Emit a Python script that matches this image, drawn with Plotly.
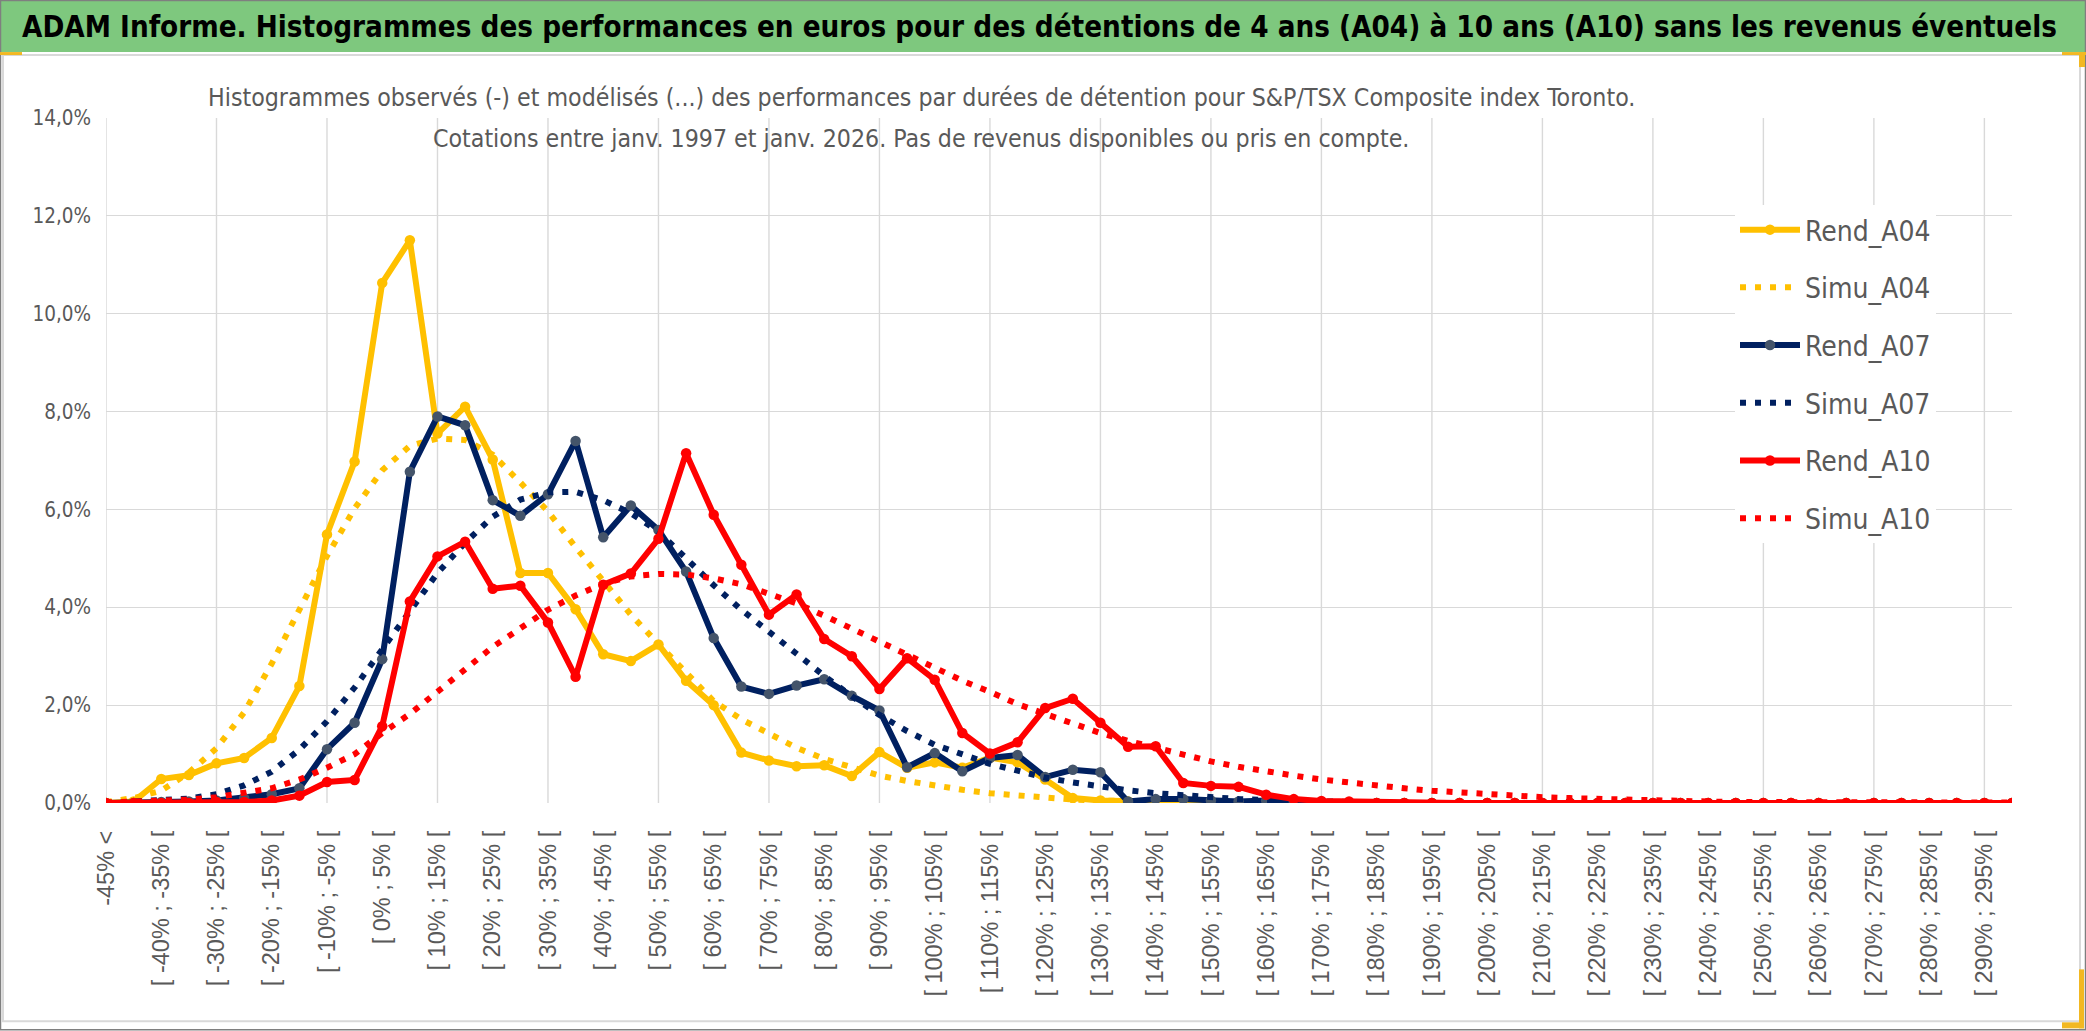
import plotly.graph_objects as go

# ---------------- data ----------------
bin_lower = list(range(-45, 300, 5))
categories = ["-45% <"] + ["[ %d%% ; %d%% [" % (lo, lo + 5) for lo in bin_lower]
tick_labels = categories[0::2]
grid_categories = categories[0::4]

rend_a04 = [0, 0.03, 0.49, 0.57, 0.81, 0.92, 1.33, 2.39, 5.49, 6.98,
            10.63, 11.5, 7.55, 8.1, 7.02, 4.7, 4.7, 3.96, 3.04, 2.9,
            3.24, 2.5, 2.0, 1.03, 0.87, 0.75, 0.77, 0.55, 1.04, 0.72,
            0.83, 0.72, 0.93, 0.83, 0.48, 0.1, 0.05, 0.03, 0.02, 0.02,
            0, 0, 0, 0, 0, 0, 0, 0, 0, 0,
            0, 0, 0, 0, 0, 0, 0, 0, 0, 0,
            0, 0, 0, 0, 0, 0, 0, 0, 0, 0]
simu_a04 = [0.02, 0.1, 0.25, 0.62, 1.12, 1.85, 2.85, 3.98, 5.05, 6.02,
            6.8, 7.3, 7.45, 7.42, 7.12, 6.55, 5.96, 5.23, 4.56, 3.85,
            3.25, 2.65, 2.08, 1.71, 1.41, 1.13, 0.9, 0.72, 0.56, 0.45,
            0.35, 0.27, 0.2, 0.15, 0.1, 0.07, 0.05, 0.03, 0.02, 0.01,
            0, 0, 0, 0, 0, 0, 0, 0, 0, 0,
            0, 0, 0, 0, 0, 0, 0, 0, 0, 0,
            0, 0, 0, 0, 0, 0, 0, 0, 0, 0]
rend_a07 = [0, 0, 0.02, 0.03, 0.05, 0.1, 0.18, 0.3, 1.1, 1.64,
            2.94, 6.77, 7.9, 7.72, 6.19, 5.87, 6.31, 7.4, 5.43, 6.08,
            5.58, 4.73, 3.37, 2.38, 2.23, 2.4, 2.53, 2.19, 1.89, 0.73,
            1.02, 0.65, 0.92, 0.98, 0.53, 0.68, 0.63, 0.03, 0.08, 0.08,
            0.05, 0.03, 0.05, 0.03, 0, 0, 0, 0, 0, 0,
            0, 0, 0, 0, 0, 0, 0, 0, 0, 0,
            0, 0, 0, 0, 0, 0, 0, 0, 0, 0]
simu_a07 = [0, 0.02, 0.04, 0.09, 0.18, 0.36, 0.64, 1.09, 1.67, 2.36,
            3.14, 3.92, 4.7, 5.32, 5.85, 6.2, 6.35, 6.36, 6.19, 5.92,
            5.55, 5.0, 4.45, 3.95, 3.48, 3.05, 2.6, 2.18, 1.8, 1.47,
            1.19, 1.0, 0.8, 0.66, 0.52, 0.42, 0.33, 0.26, 0.2, 0.15,
            0.11, 0.08, 0.06, 0.04, 0.03, 0.02, 0.01, 0, 0, 0,
            0, 0, 0, 0, 0, 0, 0, 0, 0, 0,
            0, 0, 0, 0, 0, 0, 0, 0, 0, 0]
rend_a10 = [0, 0, 0, 0, 0.02, 0.02, 0.05, 0.15, 0.43, 0.47,
            1.57, 4.12, 5.04, 5.34, 4.38, 4.44, 3.69, 2.58, 4.46, 4.69,
            5.4, 7.15, 5.89, 4.87, 3.85, 4.26, 3.35, 3.0, 2.33, 2.96,
            2.52, 1.43, 1.01, 1.24, 1.94, 2.13, 1.64, 1.15, 1.16, 0.41,
            0.35, 0.33, 0.17, 0.08, 0.04, 0.03, 0, 0, 0, 0,
            0, 0, 0, 0, 0, 0, 0, 0, 0, 0,
            0, 0, 0, 0, 0, 0, 0, 0, 0, 0]
simu_a10 = [0.01, 0.02, 0.04, 0.07, 0.12, 0.2, 0.3, 0.48, 0.72, 1.0,
            1.43, 1.82, 2.26, 2.73, 3.19, 3.58, 3.95, 4.24, 4.48, 4.63,
            4.68, 4.67, 4.59, 4.47, 4.28, 4.08, 3.83, 3.56, 3.3, 3.01,
            2.76, 2.5, 2.27, 2.02, 1.82, 1.62, 1.43, 1.27, 1.12, 0.97,
            0.85, 0.74, 0.64, 0.56, 0.48, 0.41, 0.35, 0.3, 0.25, 0.21,
            0.18, 0.15, 0.12, 0.1, 0.08, 0.06, 0.05, 0.04, 0.03, 0.02,
            0.02, 0.01, 0.01, 0.01, 0.01, 0.01, 0.01, 0.01, 0.01, 0.01]

series = [
    ("Rend_A04", rend_a04, "#FFC000", "#FFC000", False),
    ("Simu_A04", simu_a04, "#FFC000", None, True),
    ("Rend_A07", rend_a07, "#002060", "#44546A", False),
    ("Simu_A07", simu_a07, "#002060", None, True),
    ("Rend_A10", rend_a10, "#FF0000", "#FF0000", False),
    ("Simu_A10", simu_a10, "#FF0000", None, True),
]

title_text = ("ADAM Informe. Histogrammes des performances en euros pour des détentions "
              "de 4 ans (A04) à 10 ans (A10) sans les revenus éventuels")
subtitle_lines = [
    "Histogrammes observés (-) et modélisés (...) des performances par durées de détention "
    "pour S&P/TSX Composite index Toronto.",
    "Cotations entre janv. 1997 et janv. 2026. Pas de revenus disponibles ou pris en compte.",
]

# ---------------- geometry ----------------
W, H = 2086, 1031
ML, MR, MT, MB = 106, 74, 118, 227.5
PW = W - ML - MR
PH = H - MT - MB


def fx(px):
    return (px - ML) / PW


def fy(py):
    return (H - MB - py) / PH


NARROW = "Liberation Sans Narrow, Arial Narrow, DejaVu Sans Condensed, Roboto, sans-serif"
GREY = "#595959"
GRID = "#D9D9D9"

fig = go.Figure()
for i, (name, vals, col, mcol, dotted) in enumerate(series):
    if dotted:
        fig.add_trace(go.Scatter(
            x=categories, y=vals, name=name, mode="lines",
            line=dict(color=col, width=6, dash="6px,9px"),
            legendgroup=name, hoverinfo="skip"))
    else:
        fig.add_trace(go.Scatter(
            x=categories, y=vals, name=name, mode="lines+markers",
            line=dict(color=col, width=6),
            marker=dict(color=mcol, size=10.5),
            legendgroup=name, hoverinfo="skip"))

shapes = []
# outer frame and header
shapes.append(dict(type="rect", xref="paper", yref="paper", x0=fx(0), x1=fx(W), y0=fy(0), y1=fy(52),
                   fillcolor="#7EC87E", line=dict(width=0), layer="above"))
shapes.append(dict(type="rect", xref="paper", yref="paper", x0=fx(3), x1=fx(2080), y0=fy(55), y1=fy(1022),
                   fillcolor="rgba(0,0,0,0)", line=dict(color=GRID, width=2), layer="above"))
shapes.append(dict(type="rect", xref="paper", yref="paper", x0=fx(0.5), x1=fx(W - 0.5), y0=fy(0.5), y1=fy(H - 0.5),
                   fillcolor="rgba(0,0,0,0)", line=dict(color="#7F7F7F", width=1.5), layer="above"))
# small yellow accents
for (a, b, c, d) in [(0, 52, 22, 55), (2062, 52, 2086, 55), (2079, 52, 2085, 67),
                     (2079, 970, 2084, 1029), (2062, 1023, 2084, 1029)]:
    shapes.append(dict(type="rect", xref="paper", yref="paper", x0=fx(a), x1=fx(c), y0=fy(b), y1=fy(d),
                       fillcolor="#F2B822", line=dict(width=0), layer="above"))
# vertical gridlines every 4 categories
for c in grid_categories:
    shapes.append(dict(type="line", xref="x", yref="y", x0=c, x1=c, y0=0, y1=14,
                       line=dict(color=GRID, width=1.4), layer="between"))
# white box behind the chart title
shapes.append(dict(type="rect", xref="paper", yref="paper", x0=fx(200), x1=fx(1648), y0=fy(60), y1=fy(160),
                   fillcolor="white", line=dict(width=0), layer="between"))

annotations = [
    dict(text="<b>" + title_text + "</b>", xref="paper", yref="paper", x=fx(20), y=fy(27),
         xanchor="left", yanchor="middle", showarrow=False,
         font=dict(family=NARROW, size=29.3, color="black")),
    dict(text=subtitle_lines[0], xref="paper", yref="paper", x=fx(921), y=fy(97),
         xanchor="center", yanchor="middle", showarrow=False,
         font=dict(family=NARROW, size=24.7, color=GREY)),
    dict(text=subtitle_lines[1], xref="paper", yref="paper", x=fx(921), y=fy(139),
         xanchor="center", yanchor="middle", showarrow=False,
         font=dict(family=NARROW, size=24.7, color=GREY)),
]

fig.update_layout(
    width=W, height=H,
    margin=dict(l=ML, r=MR, t=MT, b=MB, pad=0),
    paper_bgcolor="white", plot_bgcolor="white",
    separators=", ",
    showlegend=True,
    legend=dict(x=fx(1735), y=fy(205), xanchor="left", yanchor="top",
                bgcolor="white", borderwidth=0, tracegroupgap=18.3,
                itemwidth=60, font=dict(family=NARROW, size=28, color=GREY)),
    xaxis=dict(type="category", categoryorder="array", categoryarray=categories,
               range=[0, len(categories) - 1], tickmode="array", tickvals=tick_labels,
               ticktext=tick_labels, tickangle=-90, showgrid=False, zeroline=False,
               showline=False, ticks="", ticklabelstandoff=22,
               tickfont=dict(family="Liberation Sans, Arial, sans-serif", size=23.5, color=GREY)),
    yaxis=dict(range=[0, 14], dtick=2, tick0=0, tickformat=".1f", ticksuffix="%",
               showgrid=True, gridcolor=GRID, gridwidth=1.4, zeroline=False, showline=False,
               ticks="", ticklabelstandoff=14,
               tickfont=dict(family=NARROW, size=20.5, color=GREY)),
    shapes=shapes, annotations=annotations,
)

fig.write_html("out.html", config={"displayModeBar": False},
               post_script="document.body.style.margin='0px';")
